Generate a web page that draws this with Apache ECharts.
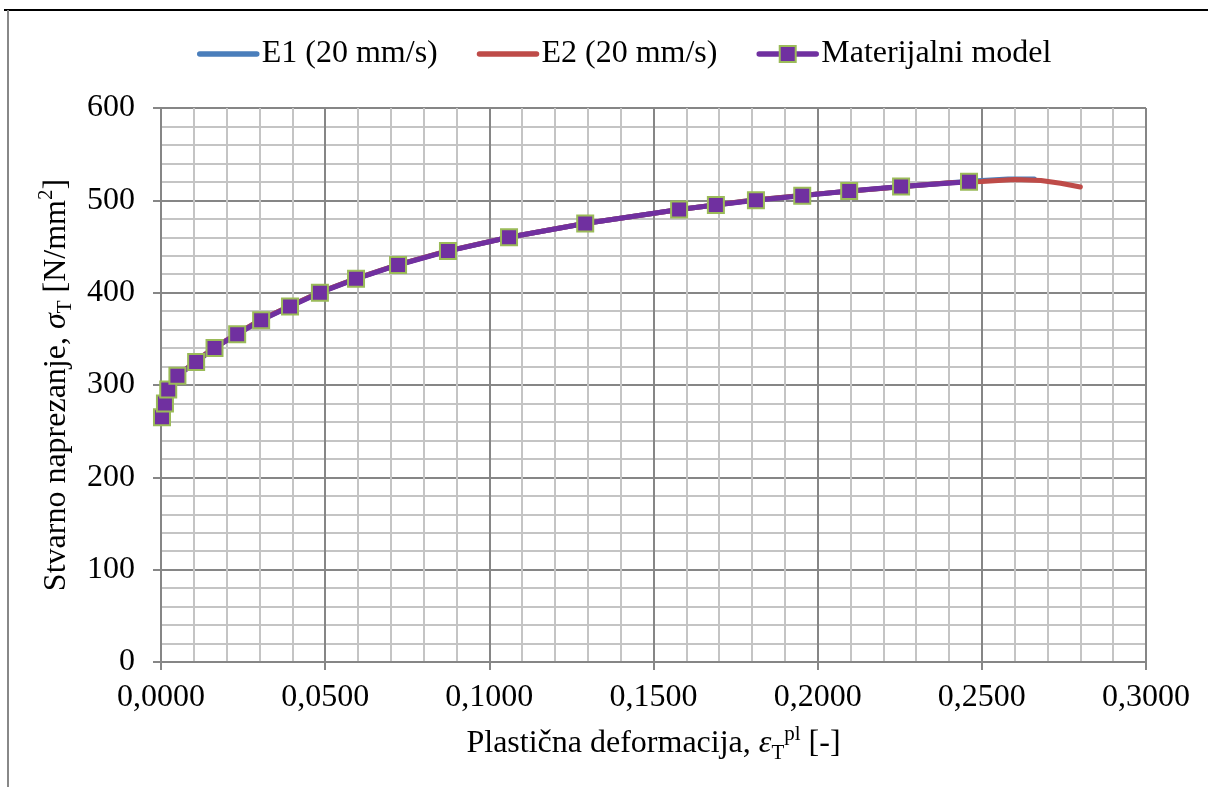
<!DOCTYPE html>
<html>
<head>
<meta charset="utf-8">
<script src="https://cdn.jsdelivr.net/npm/echarts@6/dist/echarts.min.js"></script>
<style>
html,body{margin:0;padding:0;background:#fff;}
#chart{width:1208px;height:787px;}
</style>
</head>
<body>
<div id="chart"></div>
<script>
// ---- data ----
var seriesNames = ['E1 (20 mm/s)', 'E2 (20 mm/s)', 'Materijalni model'];

var e1Strain = [0.0000, 0.0010, 0.0020, 0.0050, 0.0100, 0.0160, 0.0230, 0.0300, 0.0390, 0.0480, 0.0600, 0.0720, 0.0870, 0.1060, 0.1290, 0.1580, 0.1800, 0.2000, 0.2200, 0.2400, 0.2500, 0.2580, 0.2660];
var e1Stress = [263, 279, 294, 310, 324, 340, 355, 370, 385, 400, 416, 430, 445, 460, 475, 490, 500, 507, 513, 519, 521.5, 523, 523];

var e2Strain = [0.0000, 0.0010, 0.0020, 0.0050, 0.0100, 0.0160, 0.0230, 0.0300, 0.0390, 0.0480, 0.0600, 0.0720, 0.0870, 0.1060, 0.1290, 0.1580, 0.1800, 0.2000, 0.2200, 0.2400, 0.2500, 0.2600, 0.2680, 0.2740, 0.2800];
var e2Stress = [263, 279, 294, 310, 324, 340, 355, 370, 385, 400, 416, 430, 445, 460, 475, 490, 500, 507, 513, 519, 520.5, 522.5, 521.5, 518.5, 514.5];

var modelStrain = [0.0003, 0.0012, 0.0022, 0.0050, 0.0107, 0.0163, 0.0232, 0.0305, 0.0393, 0.0484, 0.0594, 0.0722, 0.0874, 0.1060, 0.1292, 0.1578, 0.1690, 0.1812, 0.1953, 0.2096, 0.2254, 0.2461];
var modelStress = [265, 280, 295, 310, 325, 340, 355, 370, 385, 400, 415, 430, 445, 460, 475, 490, 495, 500, 505, 510, 515, 520];

var xTicks = [0, 0.05, 0.10, 0.15, 0.20, 0.25, 0.30];
var yTicks = [0, 100, 200, 300, 400, 500, 600];

function pairs(xs, ys) { return xs.map(function (x, i) { return [x, ys[i]]; }); }

var FONT = "'Liberation Serif', 'Times New Roman', serif";
var FS = 32;

var chart = echarts.init(document.getElementById('chart'), null, {renderer: 'canvas'});
chart.setOption({
  animation: false,
  backgroundColor: '#ffffff',
  textStyle: {fontFamily: FONT, color: '#000'},
  legend: {
    top: 33,
    left: 192,
    itemWidth: 57,
    itemHeight: 20,
    itemGap: 39,
    textStyle: {fontFamily: FONT, fontSize: FS, color: '#000'},
    data: [
      {name: seriesNames[0], itemStyle: {opacity: 0}, lineStyle: {width: 5.5, color: '#4A7EBB', cap: 'round'}},
      {name: seriesNames[1], itemStyle: {opacity: 0}, lineStyle: {width: 5.5, color: '#BE4B48', cap: 'round'}},
      {name: seriesNames[2], lineStyle: {width: 5.5, color: '#7030A0', cap: 'round'}}
    ]
  },
  grid: {left: 161, right: 62, top: 108, bottom: 125, containLabel: false},
  xAxis: {
    type: 'value',
    min: xTicks[0],
    max: xTicks[xTicks.length - 1],
    interval: 0.05,
    name: 'Plastična deformacija, {it|ε}{sub|T}{sup|pl} [-]',
    nameLocation: 'middle',
    nameGap: 62,
    nameTextStyle: {
      fontFamily: FONT, fontSize: FS, color: '#000', lineHeight: 40,
      rich: {
        it: {fontFamily: FONT, fontSize: FS, fontStyle: 'italic', lineHeight: 40},
        sub: {fontFamily: FONT, fontSize: 21, lineHeight: 20, verticalAlign: 'bottom'},
        sup: {fontFamily: FONT, fontSize: 21, lineHeight: 24, verticalAlign: 'top'}
      }
    },
    axisLine: {show: true, onZero: false, lineStyle: {color: '#868686', width: 2}},
    axisTick: {show: true, inside: false, length: 8, lineStyle: {color: '#868686', width: 2}},
    minorTick: {show: false, splitNumber: 5},
    axisLabel: {
      margin: 20, fontFamily: FONT, fontSize: FS, color: '#000',
      formatter: function (v) { return v.toFixed(4).replace('.', ','); }
    },
    splitLine: {show: true, lineStyle: {color: '#868686', width: 2}},
    minorSplitLine: {show: true, lineStyle: {color: '#C4C4C4', width: 2}}
  },
  yAxis: {
    type: 'value',
    min: yTicks[0],
    max: yTicks[yTicks.length - 1],
    interval: 100,
    name: 'Stvarno naprezanje, {it|σ}{sub|T} [N/mm{sup|2}]',
    nameLocation: 'middle',
    nameRotate: 90,
    nameGap: 74,
    nameTextStyle: {
      fontFamily: FONT, fontSize: FS, color: '#000', lineHeight: 40,
      rich: {
        it: {fontFamily: FONT, fontSize: FS, fontStyle: 'italic', lineHeight: 40},
        sub: {fontFamily: FONT, fontSize: 21, lineHeight: 20, verticalAlign: 'bottom'},
        sup: {fontFamily: FONT, fontSize: 21, lineHeight: 24, verticalAlign: 'top'}
      }
    },
    axisLine: {show: true, lineStyle: {color: '#868686', width: 2}},
    axisTick: {show: true, inside: false, length: 8, lineStyle: {color: '#868686', width: 2}},
    minorTick: {show: false, splitNumber: 5},
    axisLabel: {margin: 26, fontFamily: FONT, fontSize: FS, color: '#000'},
    splitLine: {show: true, lineStyle: {color: '#868686', width: 2}},
    minorSplitLine: {show: true, lineStyle: {color: '#C4C4C4', width: 2}}
  },
  graphic: [
    {type: 'line', silent: true, shape: {x1: 4, y1: 10, x2: 1208, y2: 10}, style: {stroke: '#000', lineWidth: 2}},
    {type: 'line', silent: true, shape: {x1: 8, y1: 10, x2: 8, y2: 787}, style: {stroke: '#888', lineWidth: 2}}
  ],
  series: [
    {
      name: seriesNames[0], type: 'line', data: pairs(e1Strain, e1Stress),
      symbol: 'none', showSymbol: false,
      lineStyle: {color: '#4A7EBB', width: 5, cap: 'round'},
      itemStyle: {color: '#4A7EBB'}, z: 2
    },
    {
      name: seriesNames[1], type: 'line', data: pairs(e2Strain, e2Stress),
      symbol: 'none', showSymbol: false,
      lineStyle: {color: '#BE4B48', width: 5, cap: 'round'},
      itemStyle: {color: '#BE4B48'}, z: 3
    },
    {
      name: seriesNames[2], type: 'line', data: pairs(modelStrain, modelStress),
      symbol: 'rect', symbolSize: 16, showSymbol: true,
      lineStyle: {color: '#7030A0', width: 5, cap: 'round'},
      itemStyle: {color: '#7030A0', borderColor: '#9BBB59', borderWidth: 2},
      z: 4
    }
  ]
});
</script>
</body>
</html>
